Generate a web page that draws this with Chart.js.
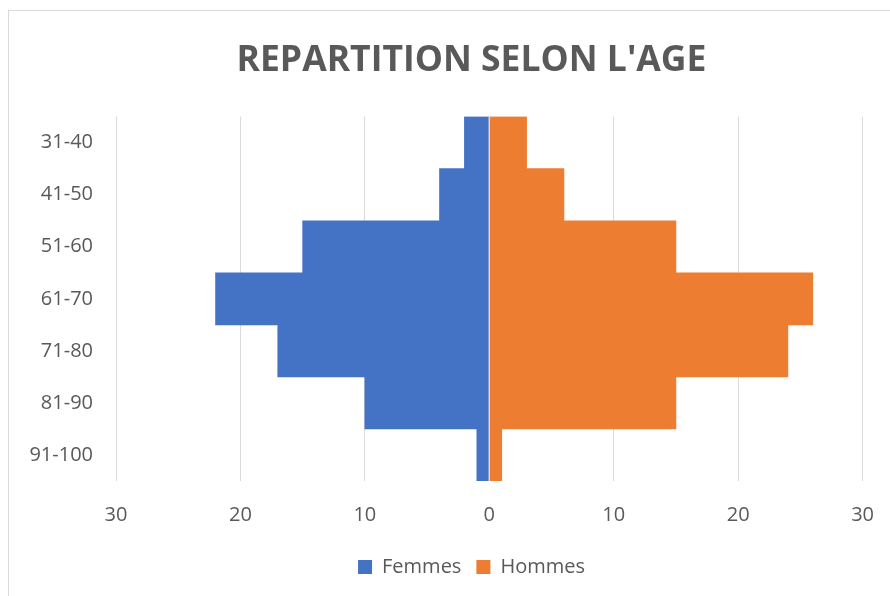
<!DOCTYPE html>
<html>
<head>
<meta charset="utf-8">
<script src="https://cdn.jsdelivr.net/npm/chart.js@4"></script>
<style>
  body { margin: 0; background: #fff; overflow: hidden; }
  #frame { position: absolute; left: 8px; top: 10px; width: 900px; height: 600px; border: 1px solid #d9d9d9; }
  #wrap { position: absolute; left: 0; top: 0; width: 890px; height: 596px; }
</style>
</head>
<body>
<div id="frame"></div>
<div id="wrap"><canvas id="chart" width="890" height="596"></canvas></div>
<script>
// --- Data ---
const ages = ["31-40", "41-50", "51-60", "61-70", "71-80", "81-90", "91-100"];
const femmes = [-2, -4, -15, -22, -17, -10, -1];
const hommes = [3, 6, 15, 26, 24, 15, 1];
const xTicks = [-30, -20, -10, 0, 10, 20, 30];

const grey = '#595959';
const font = 'Open Sans';

// vertical line at 0, drawn over the bars
const zeroLine = {
  id: 'zeroLine',
  afterDatasetsDraw(chart) {
    const x = chart.scales.x.getPixelForValue(0);
    const { top, bottom } = chart.chartArea;
    const c = chart.ctx;
    c.save();
    c.strokeStyle = '#d9d9d9';
    c.lineWidth = 1.5;
    c.beginPath();
    c.moveTo(x, top);
    c.lineTo(x, bottom);
    c.stroke();
    c.restore();
  }
};

const ctx = document.getElementById('chart').getContext('2d');
new Chart(ctx, {
  type: 'bar',
  data: {
    labels: ages,
    datasets: [
      { label: 'Femmes', data: femmes, backgroundColor: '#4472C4' },
      { label: 'Hommes', data: hommes, backgroundColor: '#ED7D31' }
    ]
  },
  options: {
    indexAxis: 'y',
    responsive: false,
    animation: false,
    barPercentage: 1,
    categoryPercentage: 1,
    layout: { padding: { left: 68, right: 15, top: 0, bottom: 9 } },
    scales: {
      x: {
        stacked: true,
        min: -30,
        max: 30,
        afterBuildTicks: s => { s.ticks = xTicks.map(v => ({ value: v })); },
        afterFit: s => { s.height = 61; },
        grid: { color: '#d9d9d9', drawTicks: false },
        border: { display: false },
        ticks: {
          padding: 16,
          color: grey,
          font: { family: font, size: 20, lineHeight: 1.8 },
          callback: v => Math.abs(v)
        }
      },
      y: {
        stacked: true,
        afterFit: s => {
          s.width = 48;
          // labels reach into the left padding, so don't clip them to the scale box
          s._computeLabelArea = () => null;
        },
        grid: { display: false },
        border: { display: false },
        ticks: {
          padding: 15,
          color: grey,
          font: { family: font, size: 20 }
        }
      }
    },
    plugins: {
      title: {
        display: true,
        text: "REPARTITION SELON L'AGE",
        color: grey,
        font: { family: font, size: 35.5, weight: 'bold', lineHeight: 1.2 },
        padding: { top: 40, bottom: 34 }
      },
      legend: {
        position: 'bottom',
        labels: {
          color: grey,
          font: { family: font, size: 20 },
          boxWidth: 14,
          boxHeight: 14,
          padding: 15
        }
      },
      tooltip: { enabled: false }
    }
  },
  plugins: [zeroLine]
});
</script>
</body>
</html>
